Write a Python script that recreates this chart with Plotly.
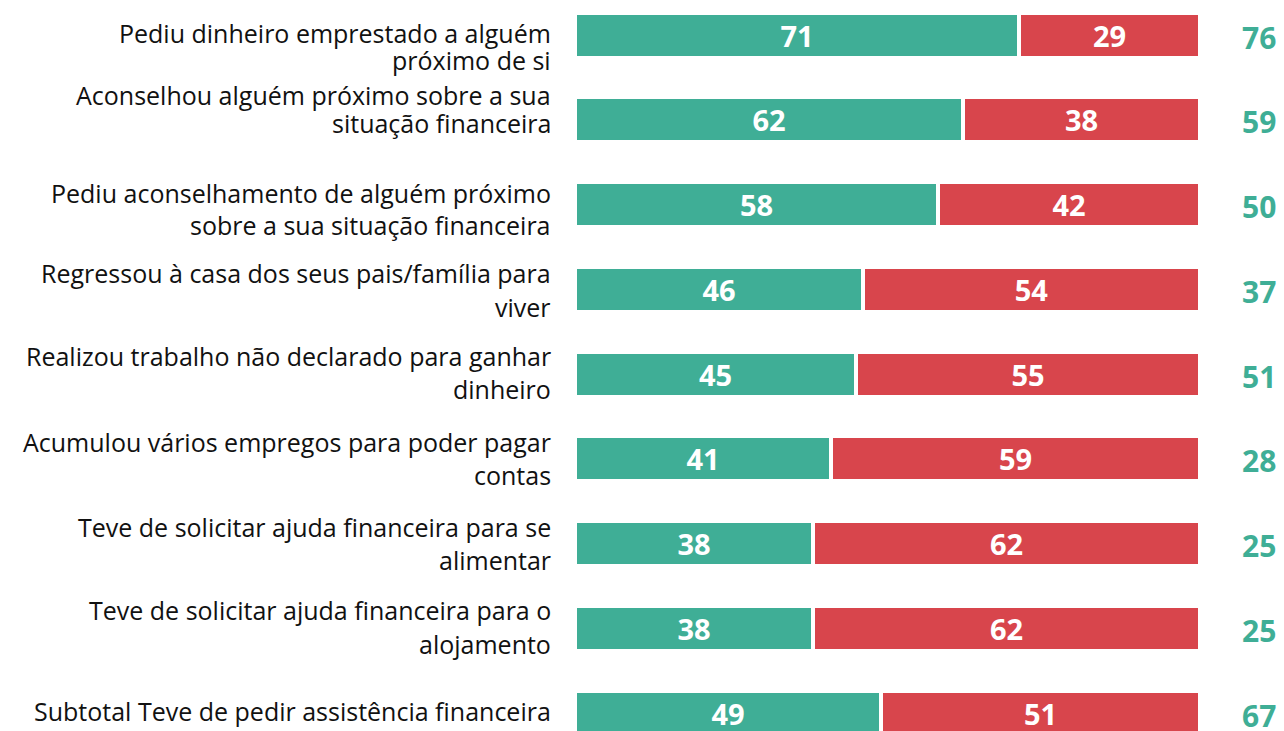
import plotly.graph_objects as go

# ---- data ----
label_lines = [
    ["Pediu dinheiro emprestado a alguém", "próximo de si"],
    ["Aconselhou alguém próximo sobre a sua", "situação financeira"],
    ["Pediu aconselhamento de alguém próximo", "sobre a sua situação financeira"],
    ["Regressou à casa dos seus pais/família para", "viver"],
    ["Realizou trabalho não declarado para ganhar", "dinheiro"],
    ["Acumulou vários empregos para poder pagar", "contas"],
    ["Teve de solicitar ajuda financeira para se", "alimentar"],
    ["Teve de solicitar ajuda financeira para o", "alojamento"],
    ["Subtotal Teve de pedir assistência financeira"],
]
yes_values = [71, 62, 58, 46, 45, 41, 38, 38, 49]
no_values = [29, 38, 42, 54, 55, 59, 62, 62, 51]
right_values = [76, 59, 50, 37, 51, 28, 25, 25, 67]

# ---- style ----
GREEN = "#3FAE96"
RED = "#D8454C"
rows = list(range(len(yes_values)))
# per-row pixel offsets of label lines relative to the bar centre
line_offsets = [[-2, 25], [-25, 3], [-12, 20], [-16, 18], [-18, 15], [-17, 16],
                [-17, 16], [-18, 16], [-2]]

fig = go.Figure()
for vals, col in [(yes_values, GREEN), (no_values, RED)]:
    fig.add_trace(go.Bar(
        y=rows, x=vals, orientation="h", width=0.531,
        marker=dict(color=col, line=dict(color="white", width=4)),
        text=vals, texttemplate="<b>%{x}</b>", textposition="inside",
        insidetextanchor="middle", textangle=0, constraintext="none",
        textfont=dict(family="Open Sans", size=29, color="white"),
        hoverinfo="skip", showlegend=False,
    ))

annotations = []
for r, lines in enumerate(label_lines):
    for k, line in enumerate(lines):
        annotations.append(dict(
            xref="paper", x=0, xanchor="right", xshift=-22,
            yref="y", y=r, yanchor="middle", yshift=-line_offsets[r][k],
            text=line, showarrow=False,
            font=dict(family="Open Sans", size=25, color="#111111"),
        ))
    annotations.append(dict(
        xref="x", x=100, xanchor="center", xshift=59,
        yref="y", y=r, yanchor="middle", yshift=-2,
        text=f"<b>{right_values[r]}</b>", showarrow=False,
        font=dict(family="Open Sans", size=30, color=GREEN),
    ))

fig.update_layout(
    width=1284, height=731,
    margin=dict(l=575, r=84, t=0, b=0),
    barmode="stack", bargap=0,
    plot_bgcolor="white", paper_bgcolor="white",
    xaxis=dict(range=[0, 100], visible=False, fixedrange=True),
    yaxis=dict(range=[8.212, -0.413], visible=False, fixedrange=True),
    annotations=annotations,
)

fig.write_html("out.html", config={"displayModeBar": False},
               post_script="document.body.style.margin='0';document.body.style.overflow='hidden';")
